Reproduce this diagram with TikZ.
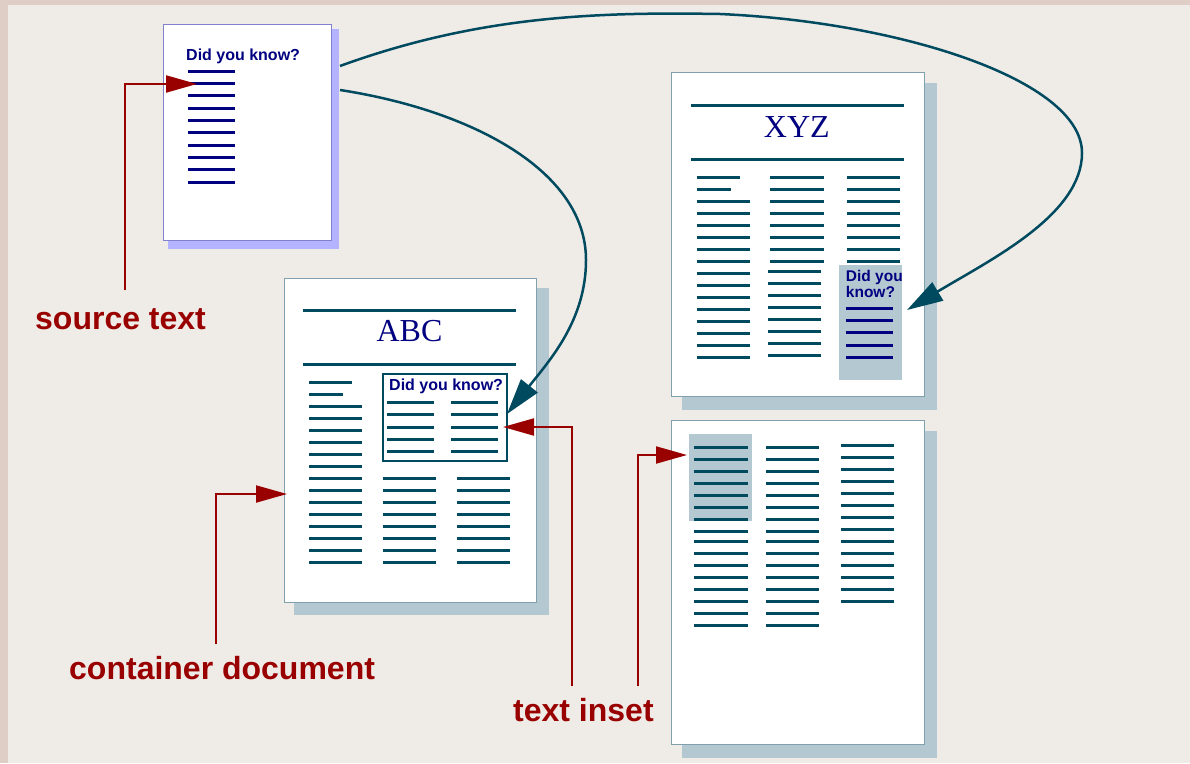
\documentclass[tikz,border=0pt]{standalone}
\usepackage{fontspec}
\setmainfont{Liberation Sans}
\newfontfamily\seriffont{Liberation Serif}
\usetikzlibrary{arrows.meta}
\definecolor{bg}{RGB}{239,236,231}
\definecolor{marble}{RGB}{222,206,198}
\definecolor{tealc}{RGB}{0,74,96}
\definecolor{navyc}{RGB}{0,0,128}
\definecolor{redc}{RGB}{153,0,0}
\definecolor{shadowc}{RGB}{180,200,210}
\definecolor{lavshadow}{RGB}{179,179,255}
\definecolor{lavborder}{RGB}{128,128,204}
\definecolor{pageborder}{RGB}{127,160,172}
\begin{document}
\begin{tikzpicture}[x=1pt,y=-1pt,
  page/.style={fill=white,draw=pageborder,line width=1pt,inner sep=0pt,anchor=north west},
  shadebox/.style={fill=shadowc,inner sep=0pt,anchor=north west},
  tl/.style={draw=tealc,line width=3pt},
  nl/.style={draw=navyc,line width=3pt},
  lbl/.style={text=redc,font=\fontsize{32}{38}\selectfont\bfseries,inner sep=0pt,anchor=base west},
  dyk/.style={text=navyc,font=\fontsize{16}{18}\selectfont\bfseries,inner sep=0pt,anchor=base west},
  ttl/.style={text=navyc,font=\seriffont\fontsize{32}{38}\selectfont,inner sep=0pt,anchor=base},
  redarrow/.style={draw=redc,line width=2pt,-{Triangle[length=31pt,width=17pt]}},
  tealarrow/.style={draw=tealc,line width=2.5pt,-{Triangle[length=36pt,width=21pt]}}
]
% background
\fill[marble] (0,0) rectangle (1190,763);
\fill[bg] (8,5) rectangle (1190,763);
\useasboundingbox (0,0) rectangle (1190,763);

% ---------- source text document ----------
\fill[lavshadow] (168,29) rectangle (339,249);
\node[page,draw=lavborder,minimum width=168pt,minimum height=216pt] (src) at (163,24) {};
\node[dyk] (srcdyk) at (186,60) {Did you know?};
\foreach \i in {0,...,9} \draw[nl] (188,{71.3+12.33*\i}) -- (235,{71.3+12.33*\i});

% ---------- ABC document ----------
\fill[shadowc] (294,288) rectangle (549,615);
\node[page,minimum width=252pt,minimum height=324pt] (abc) at (284,278) {};
\draw[tl] (303,310.3) -- (516,310.3);
\draw[tl] (303,364.7) -- (516,364.7);
\node[ttl] (abct) at (409.5,341.7) {ABC};
\draw[tl] (309,382.3) -- (352,382.3);
\draw[tl] (309,394.3) -- (343,394.3);
\foreach \i in {2,...,15} \draw[tl] (309,{382.3+12*\i}) -- (362,{382.3+12*\i});
\foreach \i in {8,...,15} {
  \draw[tl] (383,{382.3+12*\i}) -- (436,{382.3+12*\i});
  \draw[tl] (457,{382.3+12*\i}) -- (510,{382.3+12*\i});
}
\node[draw=tealc,line width=2pt,inner sep=0pt,anchor=north west,minimum width=124.6pt,minimum height=87.6pt] (inset) at (381.7,372.7) {};
\node[dyk] (insetdyk) at (389,390) {Did you know?};
\foreach \y in {402.3,414.3,427.3,439.3,451.3} {
  \draw[tl] (387,\y) -- (434,\y);
  \draw[tl] (451,\y) -- (498,\y);
}

% ---------- XYZ document ----------
\fill[shadowc] (682,83) rectangle (937,410);
\node[page,minimum width=252.4pt,minimum height=324pt] (xyz) at (671.3,72.3) {};
\draw[tl] (691,105) -- (904,105);
\draw[tl] (691,159.3) -- (904,159.3);
\node[ttl] (xyzt) at (796.8,137.3) {XYZ};
\draw[tl] (696.7,177.3) -- (740,177.3);
\draw[tl] (696.7,189.3) -- (731,189.3);
\foreach \i in {2,...,15} \draw[tl] (696.7,{177.3+12*\i}) -- (750,{177.3+12*\i});
\foreach \i in {0,...,7} {
  \draw[tl] (770,{177.3+12*\i}) -- (824,{177.3+12*\i});
  \draw[tl] (768,{271.3+12*\i}) -- (821,{271.3+12*\i});
  \draw[tl] (847,{177.3+12*\i}) -- (900,{177.3+12*\i});
}
\node[shadebox,minimum width=62.7pt,minimum height=115pt] (xbox) at (839,265) {};
\node[dyk,font=\fontsize{15.5}{17}\selectfont\bfseries] (xdyk1) at (845.7,281.7) {Did you};
\node[dyk,font=\fontsize{15.5}{17}\selectfont\bfseries] (xdyk2) at (845.7,297.3) {know?};
\foreach \y in {308.3,320.3,332.3,345.3,357.3} \draw[nl] (845.7,\y) -- (893,\y);

% ---------- bottom document ----------
\fill[shadowc] (682,431) rectangle (937,758);
\node[page,minimum width=252.4pt,minimum height=324pt] (bot) at (671.3,420.3) {};
\node[shadebox,minimum width=63pt,minimum height=87pt] (bbox) at (688.3,433.3) {};
\foreach \i in {0,...,7} {
  \draw[tl] (694,{447.3+12*\i}) -- (748,{447.3+12*\i});
  \draw[tl] (766,{447.3+12*\i}) -- (819,{447.3+12*\i});
  \draw[tl] (694,{541.3+12*\i}) -- (748,{541.3+12*\i});
  \draw[tl] (766,{541.3+12*\i}) -- (819,{541.3+12*\i});
}
\foreach \i in {0,...,13} \draw[tl] (841,{445.3+12*\i}) -- (894,{445.3+12*\i});

% ---------- labels ----------
\node[lbl] (lsrc) at (35,329) {source text};
\node[lbl] (lcont) at (69,679) {container document};
\node[lbl] (linset) at (513,721) {text inset};

% ---------- red pointer arrows ----------
\coordinate (srcA) at (125,290);
\coordinate (srcT) at (197,84);
\coordinate (contA) at (216,644);
\coordinate (contT) at (287,494);
\coordinate (insA) at (572,686);
\coordinate (insT) at (503,427);
\coordinate (ins2A) at (638,686);
\coordinate (ins2T) at (687,455);
\draw[redarrow] (srcA) |- (srcT);
\draw[redarrow] (contA) |- (contT);
\draw[redarrow] (insA) |- (insT);
\draw[redarrow] (ins2A) |- (ins2T);

% ---------- teal curved arrows ----------
\coordinate (c1s) at (340,90);
\coordinate (c1e) at (507,414);
\coordinate (c2s) at (340,66);
\coordinate (c2e) at (907,310);
\draw[tealarrow] (c1s) .. controls (470,110) and (586,170) .. (586,260)
  .. controls (586,320) and (550,360) .. (c1e);
\draw[tealarrow] (c2s) .. controls (480,15) and (600,12) .. (720,14)
  .. controls (900,22) and (1082,80) .. (1082,153)
  .. controls (1082,215) and (990,260) .. (c2e);
\end{tikzpicture}
\end{document}
